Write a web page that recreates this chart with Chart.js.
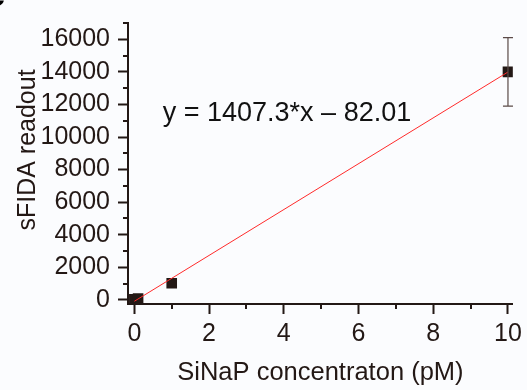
<!DOCTYPE html>
<html>
<head>
<meta charset="utf-8">
<script src="https://cdn.jsdelivr.net/npm/chart.js@4"></script>
<style>
  html, body { margin: 0; padding: 0; background: #fbfcfe; }
  #wrap { width: 527px; height: 390px; position: relative; }
</style>
</head>
<body>
<div id="wrap"><canvas id="c"></canvas></div>
<script>
// ---- data ----
const concentrations = [0, 0.1, 1, 10];          // SiNaP concentration (pM)
const readouts       = [40, 90, 1020, 14000];     // sFIDA readout
const errors         = [0, 0, 0, 2100];           // +/- error
const fitSlope = 1407.3;
const fitIntercept = -82.01;
const fitRange = [0, 10];
const xTickValues = [0, 2, 4, 6, 8, 10];
const xMinorValues = [1, 3, 5, 7, 9];
const yTickValues = [0, 2000, 4000, 6000, 8000, 10000, 12000, 14000, 16000];
const yMinorValues = [1000, 3000, 5000, 7000, 9000, 11000, 13000, 15000, 17000];
const equationText = 'y = 1407.3*x \u2013 82.01';
const xTitle = 'SiNaP concentraton (pM)';
const yTitle = 'sFIDA readout';

const INK = '#231815';
const FONT = '"Liberation Sans", Arial, sans-serif';

const pointData = concentrations.map((x, i) => ({ x: x, y: readouts[i] }));
const fitData = fitRange.map(x => ({ x: x, y: fitSlope * x + fitIntercept }));

const extras = {
  id: 'extras',
  afterDatasetsDraw(chart) {
    const ctx = chart.ctx;
    const xs = chart.scales.x, ys = chart.scales.y;
    ctx.save();
    ctx.strokeStyle = '#5b4a47';
    ctx.lineWidth = 1.2;
    concentrations.forEach((x, i) => {
      if (!errors[i]) return;
      const px = xs.getPixelForValue(x);
      const top = ys.getPixelForValue(readouts[i] + errors[i]);
      const bot = ys.getPixelForValue(readouts[i] - errors[i]);
      ctx.beginPath();
      ctx.moveTo(px, top); ctx.lineTo(px, bot);
      ctx.moveTo(px - 5, top); ctx.lineTo(px + 5, top);
      ctx.moveTo(px - 5, bot); ctx.lineTo(px + 5, bot);
      ctx.stroke();
    });
    ctx.restore();
  },
  afterDraw(chart) {
    const ctx = chart.ctx;
    const xs = chart.scales.x, ys = chart.scales.y;
    const area = chart.chartArea;
    ctx.save();
    ctx.strokeStyle = INK;
    ctx.lineWidth = 2;
    xMinorValues.forEach(v => {
      const px = Math.round(xs.getPixelForValue(v));
      ctx.beginPath(); ctx.moveTo(px, area.bottom); ctx.lineTo(px, area.bottom + 5); ctx.stroke();
    });
    yMinorValues.forEach(v => {
      const py = Math.round(ys.getPixelForValue(v));
      ctx.beginPath(); ctx.moveTo(area.left, py); ctx.lineTo(area.left - 5, py); ctx.stroke();
    });
    // equation
    ctx.fillStyle = '#111111';
    ctx.font = '27px ' + FONT;
    ctx.textBaseline = 'middle';
    ctx.textAlign = 'left';
    ctx.fillText(equationText, xs.getPixelForValue(0.76), ys.getPixelForValue(11450));
    // y-axis title
    ctx.save();
    ctx.translate(28, 150);
    ctx.rotate(-Math.PI / 2);
    ctx.font = '25px ' + FONT;
    ctx.fillStyle = INK;
    ctx.textAlign = 'center';
    ctx.textBaseline = 'middle';
    ctx.fillText(yTitle, 0, 0);
    ctx.restore();
    // panel letter fragment (cut off)
    ctx.font = 'bold 30px ' + FONT;
    ctx.fillStyle = '#000';
    ctx.textBaseline = 'alphabetic';
    ctx.fillText('c', -12, 6);
    ctx.restore();
  }
};

new Chart(document.getElementById('c'), {
  type: 'scatter',
  data: {
    datasets: [
      {
        type: 'line',
        data: fitData,
        borderColor: '#ff2a2a',
        borderWidth: 1,
        pointRadius: 0,
        fill: false,
        tension: 0
      },
      {
        data: pointData,
        pointStyle: 'rect',
        pointRadius: 7.5,
        pointHoverRadius: 7.5,
        backgroundColor: INK,
        borderColor: INK,
        borderWidth: 0
      }
    ]
  },
  plugins: [extras],
  options: {
    responsive: true,
    maintainAspectRatio: false,
    animation: false,
    events: [],
    layout: { padding: { top: 12, right: 10, left: 0, bottom: 0 } },
    plugins: { legend: { display: false }, tooltip: { enabled: false } },
    scales: {
      x: {
        type: 'linear',
        min: -0.17,
        max: 10.13,
        afterFit(s) { s.height = 86; },
        afterBuildTicks(s) { s.ticks = xTickValues.map(v => ({ value: v })); },
        grid: { drawOnChartArea: false, drawTicks: true, tickLength: 10, tickColor: INK, tickWidth: 2 },
        border: { display: true, color: INK, width: 2 },
        ticks: { color: INK, font: { family: FONT, size: 25 }, padding: 5, maxRotation: 0, autoSkip: false,
                 callback: v => String(v) },
        title: { display: true, text: xTitle, color: INK, font: { family: FONT, size: 25.5 }, padding: { top: 0, bottom: 2 } }
      },
      y: {
        type: 'linear',
        min: -250,
        max: 17000,
        afterFit(s) { s.width = 128; },
        afterBuildTicks(s) { s.ticks = yTickValues.map(v => ({ value: v })); },
        grid: { drawOnChartArea: false, drawTicks: true, tickLength: 10, tickColor: INK, tickWidth: 2 },
        border: { display: true, color: INK, width: 2 },
        ticks: { color: INK, font: { family: FONT, size: 25 }, padding: 8, autoSkip: false,
                 callback: v => String(v) },
        title: { display: false }
      }
    }
  }
});
</script>
</body>
</html>
